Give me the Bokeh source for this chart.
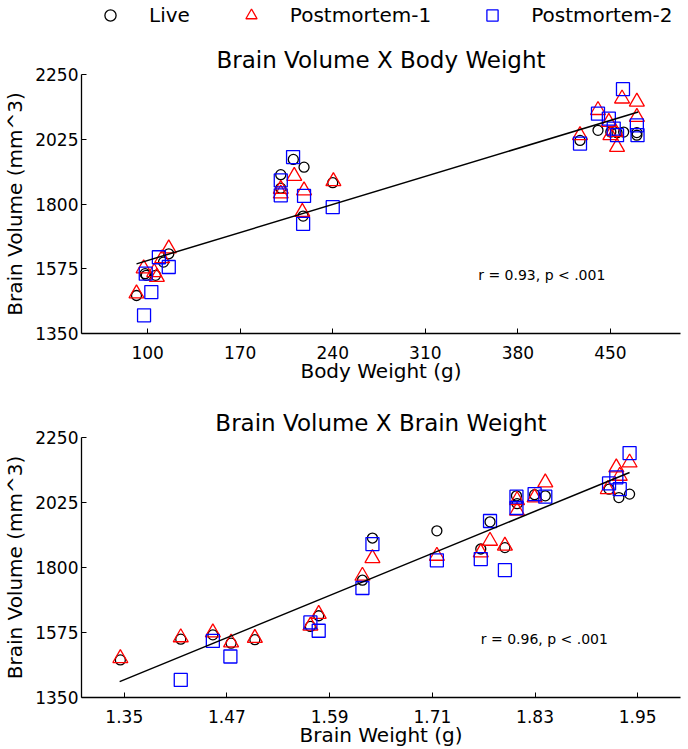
from bokeh.plotting import figure
from bokeh.layouts import column
from bokeh.models import Legend, LegendItem, Label, Range1d, ColumnDataSource
from bokeh.embed import file_html
from bokeh.resources import INLINE

FONT = "DejaVu Sans"

# ---------------- data: Brain Volume vs Body Weight ----------------
body_live_x = [91.6, 98.1, 99, 106, 112, 116, 210.2, 218.3, 200.7, 200.7, 217.6, 240,
               427, 440.6, 450.3, 455, 460, 470, 470]
body_live_y = [1482, 1558, 1552, 1552, 1598, 1627, 1955, 1928, 1902, 1855, 1758, 1874,
               2021, 2056, 2050, 2048, 2050, 2048, 2039]
body_pm1_x = [91.6, 97, 105, 107, 111, 116, 210.9, 200.7, 200.7, 218.3, 217, 240.5,
              427, 440.6, 448.8, 453.8, 455, 458.8, 470, 470, 450]
body_pm1_y = [1489, 1576, 1563, 1546, 1611, 1645, 1897, 1836, 1852, 1847, 1772, 1879,
              2039, 2126, 2085, 2050, 1998, 2166, 2155, 2102, 2039]
body_pm2_x = [97.3, 102.8, 98.6, 108.5, 116, 210, 200.7, 200.7, 218.3, 217.6, 240,
              427, 440.6, 448.8, 455, 452.5, 459.5, 470, 470.5]
body_pm2_y = [1413, 1494, 1558, 1615, 1581, 1963, 1882, 1830, 1828, 1731, 1789,
              2010, 2114, 2097, 2039, 2062, 2199, 2073, 2039]
body_fit_x = [91.6, 471]
body_fit_y = [1592, 2120]
body_ticks = [100, 170, 240, 310, 380, 450]

# ---------------- data: Brain Volume vs Brain Weight ----------------
brain_live_x = [1.3454, 1.416, 1.4535, 1.4748, 1.5026, 1.5675, 1.5772, 1.6283, 1.640,
                1.7153, 1.7666, 1.7774, 1.7948, 1.8091, 1.8083, 1.8295, 1.842,
                1.9165, 1.928, 1.9405]
brain_live_y = [1480, 1552, 1567, 1538, 1550, 1596, 1633, 1756, 1902,
                1927, 1864, 1958, 1869, 2021, 2048, 2052, 2048,
                2071, 2042, 2054]
brain_pm1_x = [1.3454, 1.416, 1.4535, 1.4748, 1.5026, 1.5675, 1.5772, 1.6283, 1.640,
               1.7153, 1.7666, 1.7774, 1.7948, 1.809, 1.809, 1.8295, 1.842,
               1.915, 1.925, 1.929, 1.9405]
brain_pm1_y = [1486, 1558, 1575, 1540, 1556, 1598, 1639, 1771, 1832,
               1840, 1852, 1892, 1875, 1996, 2033, 2042, 2094,
               2071, 2146, 2117, 2163]
brain_pm2_x = [1.416, 1.4535, 1.474, 1.5675, 1.5772, 1.6283, 1.640,
               1.7153, 1.7666, 1.7774, 1.7948, 1.8083, 1.8083, 1.8295, 1.842,
               1.9165, 1.925, 1.929, 1.9405]
brain_pm2_y = [1411, 1546, 1492, 1610, 1581, 1729, 1881,
               1825, 1829, 1961, 1791, 2045, 2006, 2054, 2045,
               2091, 2112, 2071, 2196]
brain_fit_x = [1.3446, 1.9405]
brain_fit_y = [1405, 2129]
brain_ticks = [1.35, 1.47, 1.59, 1.71, 1.83, 1.95]

vol_ticks = [1350, 1575, 1800, 2025, 2250]
series_labels = ["Live", "Postmortem-1", "Postmortem-2"]

STYLES = [
    dict(marker="circle", size=10, line_color="black"),
    dict(marker="triangle", size=15, line_color="#ff0000"),
    dict(marker="square", size=13, line_color="#0000ff"),
]


def panel(title, xr, xticks, xlabel, above, below, height, sources, fit, stat, sx, sy):
    p = figure(width=688, height=height, x_range=Range1d(*xr), y_range=Range1d(1350, 2250),
               output_backend="svg", toolbar_location=None, title=title,
               min_border_left=78, min_border_right=8,
               min_border_top=above, min_border_bottom=below)
    p.outline_line_color = None
    p.xgrid.grid_line_color = None
    p.ygrid.grid_line_color = None
    p.title.align = "center"
    p.title.text_font = FONT
    p.title.text_font_size = "23px"
    p.title.text_font_style = "normal"
    p.title.text_color = "black"
    p.title.standoff = 4
    for ax in (p.xaxis[0], p.yaxis[0]):
        ax.axis_line_color = "black"
        ax.axis_line_width = 1.3
        ax.major_tick_in = 5
        ax.major_tick_out = 0
        ax.major_tick_line_color = "black"
        ax.minor_tick_line_color = None
        ax.major_label_text_font = FONT
        ax.major_label_text_font_size = "17px"
        ax.major_label_text_color = "black"
        ax.axis_label_text_font = FONT
        ax.axis_label_text_font_size = "20px"
        ax.axis_label_text_font_style = "normal"
        ax.axis_label_text_color = "black"
    p.xaxis.ticker = xticks
    p.yaxis.ticker = vol_ticks
    p.xaxis.axis_label = xlabel
    p.yaxis.axis_label = "Brain Volume (mm^3)"
    p.xaxis.major_label_standoff = 12
    p.xaxis.axis_label_standoff = -3
    p.yaxis.major_label_standoff = 3
    p.yaxis.axis_label_standoff = 5
    for src, st in zip(sources, STYLES):
        p.scatter("x", "y", source=src, fill_color=None, line_width=1.3, **st)
    p.line(fit[0], fit[1], line_color="black", line_width=1.5)
    p.add_layout(Label(x=sx, y=sy, text=stat, text_font=FONT, text_font_size="14px",
                       text_baseline="middle", text_color="black"))
    return p


body_sources = [ColumnDataSource(dict(x=body_live_x, y=body_live_y)),
                ColumnDataSource(dict(x=body_pm1_x, y=body_pm1_y)),
                ColumnDataSource(dict(x=body_pm2_x, y=body_pm2_y))]
brain_sources = [ColumnDataSource(dict(x=brain_live_x, y=brain_live_y)),
                 ColumnDataSource(dict(x=brain_pm1_x, y=brain_pm1_y)),
                 ColumnDataSource(dict(x=brain_pm2_x, y=brain_pm2_y))]

# legend strip (its ranges show none of the data; it only hosts the legend)
lf = figure(width=688, height=30, x_range=Range1d(0, 1), y_range=Range1d(0, 1),
            output_backend="svg", toolbar_location=None,
            x_axis_location=None, y_axis_location=None, min_border=0,
            min_border_left=78, min_border_right=8)
lf.outline_line_color = None
lf.xgrid.visible = False
lf.ygrid.visible = False
items = []
for lab, st, src in zip(series_labels, STYLES, body_sources):
    r = lf.scatter("x", "y", source=src, fill_color=None, line_width=1.3, **st)
    items.append(LegendItem(label=lab, renderers=[r], index=0))
leg = Legend(items=items, orientation="horizontal", location=(15, 1),
             glyph_width=28, glyph_height=28, label_standoff=25, spacing=47,
             padding=0, margin=0, border_line_color=None, background_fill_alpha=0,
             label_text_font=FONT, label_text_font_size="20px", label_text_color="black")
lf.add_layout(leg, "center")

p1 = panel("Brain Volume X Body Weight", (50, 503), body_ticks, "Body Weight (g)",
           44, 57, 360, body_sources,
           (body_fit_x, body_fit_y), "r = 0.93, p < .001", 350, 1555)
p2 = panel("Brain Volume X Brain Weight", (1.30, 2.00), brain_ticks, "Brain Weight (g)",
           47, 52, 359, brain_sources,
           (brain_fit_x, brain_fit_y), "r = 0.96, p < .001", 1.7666, 1553)

layout = column(lf, p1, p2, spacing=0)
open("out.html", "w").write(file_html(layout, INLINE))
